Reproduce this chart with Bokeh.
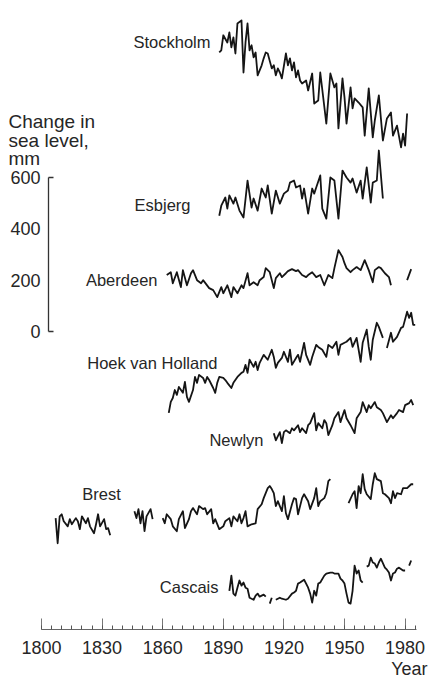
import numpy as np
from bokeh.plotting import figure
from bokeh.models import Range1d, FixedTicker, ColumnDataSource, Title
from bokeh.core.properties import value
from bokeh.embed import file_html
from bokeh.resources import INLINE

nan = float("nan")

# ---------------- data (relative sea level, mm; annual means) ----------------
stations = ["Stockholm", "Esbjerg", "Aberdeen", "Hoek van Holland", "Newlyn", "Brest", "Cascais"]
offsets = [900, 510, 200, -130, -365, -700, -990]   # vertical shift of each curve, mm

stockholm_years = [1888, 1889, 1890, 1892, 1893, 1894, 1895, 1896, 1897, 1899, 1900, 1901, 1902, 1903,
                   1904, 1905, 1906, 1907, 1909, 1910, 1911, 1912, 1914, 1915, 1916, 1917, 1918, 1919,
                   1921, 1922, 1923, 1924, 1925, 1926, 1927, 1928, 1929, 1931, 1932, 1934, 1935, 1937,
                   1938, 1941, 1943, 1945, 1946, 1947, 1949, 1950, 1951, 1953, 1954, 1955, 1957, 1959,
                   1960, 1962, 1964, 1965, 1967, 1969, 1971, 1973, 1974, 1976, 1978, 1979, 1980, 1981]
stockholm_mm = [187, 195, 254, 226, 265, 207, 246, 183, 300, 312, 109, 226, 300, 195,
                215, 168, 187, 98, 137, 164, 187, 183, 125, 137, 98, 125, 109, 86,
                183, 137, 164, 117, 148, 90, 117, 78, 66, 78, 39, 105, -12, 0,
                109, -90, 105, 51, 66, -109, 86, 12, -90, 51, -31, 8, -8, -27,
                -137, 47, -144, -78, 20, -156, -70, -47, -137, -98, -183, -129, -176, -51]

esbjerg_years = [1888, 1889, 1891, 1892, 1893, 1895, 1896, 1898, 1900, 1902, 1904, 1905, 1907, 1909,
                 1911, 1912, 1914, 1916, 1918, 1920, 1922, 1923, 1925, 1926, 1928, 1929, 1930, 1932,
                 1934, 1935, 1936, 1938, 1939, 1941, 1943, 1945, 1947, 1949, 1951, 1953, 1954, 1956,
                 1958, 1959, 1961, 1963, 1964, 1966, 1967, 1969]
esbjerg_mm = [-59, -20, 12, -31, 20, -12, 12, -39, -66, 78, -27, 8, -39, 47,
              12, 59, -51, 39, -12, 27, 39, 70, 78, 51, 59, 8, 47, -51,
              47, 27, 51, 98, -31, -70, 90, 78, -70, 117, 90, 70, 86, 31,
              78, 8, 129, -8, 70, 78, 195, 8]

aberdeen_years = [1862, 1864, 1865, 1867, 1869, 1870, 1872, 1874, 1875, 1877, 1879, 1880, 1883, 1885,
                  1887, 1889, 1890, 1892, 1894, 1895, 1897, 1899, 1900, 1902, 1903, 1905, 1907, 1908,
                  1910, 1911, 1913, 1915, 1916, 1918, 1919, 1921, 1922, 1924, 1926, 1927, 1929, 1931,
                  1932, 1934, 1936, 1938, 1940, 1942, 1944, 1945, 1947, 1949, 1950, 1951, 1953, 1954,
                  1956, 1958, 1960, 1962, 1964, 1965, 1967, 1968, 1970, 1972, 1973, 1977, 1981, 1983]
aberdeen_mm = [20, 31, -12, 31, -27, 39, -20, 27, 39, 0, -12, 0, -31, -39,
               -66, -27, -51, -20, -66, -27, -51, -20, -31, 27, -20, -8, -20, 0,
               12, 47, 31, -31, 8, 27, 12, 27, 35, 43, 35, 39, 20, 12,
               20, 31, 12, 20, -20, 20, 8, 47, 117, 90, 66, 47, 31, 39,
               51, 39, 78, 39, -8, 39, 51, 47, 27, 12, -20, nan, 0, 43]

hoek_years = [1863, 1864, 1865, 1866, 1867, 1868, 1870, 1871, 1872, 1873, 1875, 1876, 1877, 1878,
              1880, 1881, 1882, 1883, 1885, 1886, 1887, 1888, 1890, 1891, 1892, 1894, 1895, 1897,
              1899, 1900, 1901, 1902, 1903, 1905, 1906, 1907, 1908, 1910, 1912, 1914, 1915, 1916,
              1917, 1919, 1920, 1922, 1923, 1924, 1926, 1927, 1928, 1930, 1931, 1933, 1934, 1936,
              1937, 1939, 1941, 1942, 1944, 1946, 1947, 1948, 1950, 1951, 1953, 1954, 1956, 1957,
              1958, 1959, 1961, 1962, 1963, 1964, 1966, 1967, 1969, 1970, 1971, 1973, 1974, 1976,
              1978, 1979, 1981, 1982, 1983, 1984, 1985]
hoek_mm = [-187, -144, -129, -98, -117, -86, -109, -66, -125, -144, -98, -47, -70, -39,
           -51, -70, -47, -59, -90, -109, -70, -47, -51, -59, -70, -90, -70, -47,
           -31, -27, 0, -31, 20, -8, 12, -20, 8, 39, 20, 59, 31, -12,
           8, 27, 51, 12, 59, 0, 27, 39, 12, 86, 39, 0, 31, 78,
           70, 59, 31, 78, 66, 90, 39, 78, 86, 90, 105, 70, 105, 59,
           12, 86, 137, 70, 20, 98, 164, 148, 105, nan, 66, 125, 90, 109,
           144, 148, 207, 183, 203, 156, 156]

newlyn_years = [1915, 1916, 1918, 1919, 1920, 1921, 1923, 1924, 1925, 1927, 1928, 1929, 1931, 1932,
                1933, 1935, 1936, 1937, 1939, 1940, 1941, 1942, 1944, 1945, 1947, 1948, 1950, 1951,
                1953, 1955, 1956, 1958, 1959, 1961, 1962, 1963, 1965, 1966, 1968, 1969, 1971, 1973,
                1974, 1976, 1977, 1979, 1980, 1982, 1983, 1984]
newlyn_mm = [-31, -59, -27, -70, -27, -20, -31, -12, -20, 0, -27, -12, -31, 0,
             8, 47, -20, 8, -12, 20, 8, -39, 0, 27, 51, 12, 59, 27,
             0, -31, 27, 51, 90, 51, 78, 66, 90, 70, 59, 47, 12, 39,
             27, 47, 59, 51, 78, 86, 98, 78]

brest_years = [1807, 1808, 1809, 1810, 1811, 1813, 1814, 1815, 1817, 1818, 1819, 1820, 1822, 1823,
               1824, 1826, 1827, 1828, 1829, 1831, 1832, 1833, 1834, 1840,
               1846, 1847, 1848, 1849, 1850, 1851, 1852, 1854, 1855, 1857,
               1860, 1861, 1862, 1864, 1865, 1867, 1868, 1870, 1871, 1873, 1874, 1875, 1877, 1878,
               1880, 1881, 1882, 1884, 1885, 1886, 1888, 1890, 1891, 1893, 1894, 1895, 1897, 1898,
               1899, 1900, 1901, 1902, 1904, 1906, 1907, 1909, 1910, 1912, 1913, 1914, 1915, 1916,
               1917, 1919, 1920, 1921, 1922, 1924, 1925, 1926, 1927, 1929, 1930, 1932, 1933, 1935,
               1936, 1937, 1938, 1940, 1941, 1942, 1943, 1947,
               1952, 1954, 1955, 1956, 1957, 1958, 1959, 1960, 1961, 1963, 1964, 1965, 1966, 1968,
               1969, 1970, 1972, 1973, 1974, 1975, 1976, 1978, 1979, 1981, 1983, 1984]
brest_mm = [-27, -125, -20, -12, -39, -59, -31, -51, -27, -39, -70, -20, -47, -27,
            -59, -86, -51, -12, -59, -31, -70, -66, -94, nan,
            0, -27, 8, -47, 0, -78, -20, 8, -31, nan,
            -27, -47, -12, -31, -59, -78, -31, 0, -66, -31, 0, 12, -12, 20,
            8, 12, -12, 8, -47, -31, -70, -59, -39, -27, -59, -20, -39, -12,
            -47, -27, 0, -59, -51, -47, 8, 27, 51, 90, 98, 86, 70, 20,
            39, 0, 59, -8, -31, 27, 51, 47, -12, 51, 66, 39, 8, 51,
            90, 20, 39, 51, 70, 117, 125, nan,
            31, 66, 78, 12, 98, 70, 144, 86, 66, 47, 105, 148, 125, 117,
            70, 66, 51, 31, 78, 51, 70, 66, 90, 90, 105, 105]

cascais_years = [1893, 1894, 1895, 1896, 1897, 1898, 1899, 1900, 1901, 1902, 1903, 1905, 1906, 1907,
                 1908, 1910, 1911, 1912, 1913, 1914, 1915, 1916, 1918, 1919, 1921, 1922, 1924, 1925,
                 1926, 1927, 1928, 1930, 1931, 1932, 1933, 1934, 1935, 1936, 1937, 1938, 1940, 1941,
                 1943, 1944, 1945, 1947, 1948, 1949, 1950, 1951, 1952, 1953, 1954, 1955, 1956, 1957,
                 1958, 1959, 1960, 1961, 1962, 1963, 1964, 1965, 1966, 1967, 1968, 1970, 1971, 1972,
                 1973, 1974, 1975, 1976, 1977, 1979, 1980, 1981, 1982, 1983]
cascais_mm = [-20, 39, -31, -39, -8, 20, 0, 12, -8, -12, -47, -55, -39, -31,
              -43, -35, -43, nan, -70, -47, nan, -55, -47, -51, -55, -51, -31, -27,
              -20, 8, 12, 23, 8, -8, -31, -66, -20, -39, 8, 12, 39, 47,
              51, 51, 47, 47, 27, 20, 8, -31, -66, -70, -20, 78, 47, 59,
              20, 12, nan, 74, 78, 109, 90, 86, 70, 90, 105, 70, 62, 51,
              20, 47, 51, 66, 70, 59, 59, nan, 78, 98]

series_years = [stockholm_years, esbjerg_years, aberdeen_years, hoek_years, newlyn_years, brest_years, cascais_years]
series_mm = [stockholm_mm, esbjerg_mm, aberdeen_mm, hoek_mm, newlyn_mm, brest_mm, cascais_mm]

year_ticks = [1800, 1830, 1860, 1890, 1920, 1950, 1980]
year_minor = list(range(1800, 1990, 5))
scale_ticks = [0, 200, 400, 600]

# ---------------- layout (canvas pixels -> data) ----------------
W, H = 430, 679
PX_YEAR = 2.02          # px per year
X1800 = 41              # canvas x of 1800
PX_MM = 0.2567          # px per mm
Y0 = 331                # canvas y of 0 mm (scale bar)
FRAME_H = 629


def xd(px):  # canvas x -> year
    return 1800 + (px - X1800) / PX_YEAR


def yd(py):  # canvas y -> mm
    return (Y0 - py) / PX_MM


FONT = "Liberation Sans"
INK = "#151515"
TXT = "#262626"

p = figure(width=W, height=H, output_backend="svg", toolbar_location=None,
           x_range=Range1d(xd(0), xd(W)), y_range=Range1d(yd(FRAME_H), yd(0)),
           y_axis_location=None, min_border_left=0, min_border_right=0,
           min_border_top=0, min_border_bottom=H - FRAME_H)
p.outline_line_color = None
p.xgrid.visible = False
p.ygrid.visible = False
p.background_fill_color = "white"
p.border_fill_color = "white"

# curves
for yrs, vals, off in zip(series_years, series_mm, offsets):
    v = np.array(vals, dtype=float) + off
    src = ColumnDataSource(dict(x=yrs, y=v))
    p.line("x", "y", source=src, line_color=INK, line_width=1.8, line_join="round")

# station names
name_x = [xd(210), xd(190), xd(157), xd(217), xd(263), xd(101), xd(218)]
name_y = [yd(41), yd(204), yd(279), yd(362), yd(439), yd(493), yd(586)]
name_align = ["right", "right", "right", "right", "right", "center", "right"]
p.text(x=name_x, y=name_y, text=stations, text_align=name_align, text_baseline="middle",
       text_font=value(FONT), text_font_size="16.5px", text_color=TXT)

# vertical scale bar (0-600 mm)
xs = xd(48)
p.segment(x0=[xs], y0=[min(scale_ticks)], x1=[xs], y1=[max(scale_ticks)],
          line_color="#333333", line_width=1.3)
end_ticks = [min(scale_ticks), max(scale_ticks)]
p.segment(x0=[xs] * 2, y0=end_ticks, x1=[xs + 5 / PX_YEAR] * 2, y1=end_ticks,
          line_color="#333333", line_width=1.3)
p.text(x=[xs] * len(scale_ticks), y=scale_ticks, text=[str(t) for t in scale_ticks],
       x_offset=-8, text_align="right", text_baseline="middle",
       text_font=value(FONT), text_font_size="18px", text_color=TXT)

# scale title
title_lines = ["Change in", "sea level,", "mm"]
p.text(x=[xd(8)] * 3, y=[yd(121), yd(139.5), yd(158)], text=title_lines,
       text_align="left", text_baseline="alphabetic",
       text_font=value(FONT), text_font_size="19px", text_color=TXT)

# x axis
ax = p.xaxis[0]
ax.ticker = FixedTicker(ticks=year_ticks, minor_ticks=year_minor)
ax.bounds = (1800, 1985.5)
ax.axis_line_color = "#666666"
ax.axis_line_width = 1
ax.major_tick_line_color = "#777777"
ax.minor_tick_line_color = "#555555"
ax.major_tick_in = 11
ax.major_tick_out = 0
ax.minor_tick_in = 4
ax.minor_tick_out = 0
ax.major_label_standoff = 11
ax.major_label_text_font = FONT
ax.major_label_text_font_size = "18px"
ax.major_label_text_color = TXT

p.add_layout(Title(text="Year", align="right", offset=3, standoff=0,
                   text_font=FONT, text_font_size="18px", text_font_style="normal",
                   text_color=TXT), "below")

open("out.html", "w").write(file_html(p, INLINE))
